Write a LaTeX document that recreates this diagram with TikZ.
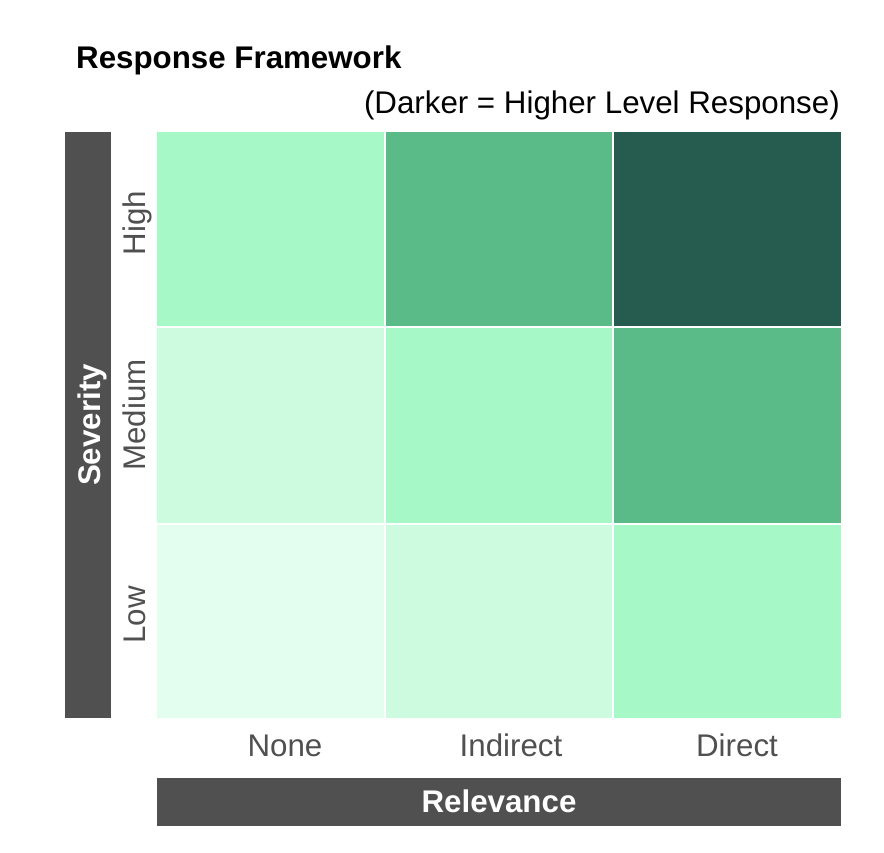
\documentclass[tikz,border=0pt]{standalone}
\usepackage{fontspec}
\setmainfont{Liberation Sans}
\definecolor{barg}{HTML}{505050}
\definecolor{lab}{HTML}{505050}
\definecolor{cA}{HTML}{E3FDEF}
\definecolor{cB}{HTML}{CCFBE0}
\definecolor{cC}{HTML}{A6F9C6}
\definecolor{cD}{HTML}{5BBB88}
\definecolor{cE}{HTML}{265C4F}
\begin{document}
\begin{tikzpicture}[x=1pt,y=-1pt,
  big/.style={font=\fontsize{31.3}{36}\selectfont, inner sep=0pt},
  cell/.style={draw=white, line width=2pt},
  bar/.style={fill=barg, draw=none}]
\useasboundingbox (0,0) rectangle (884,852);
\fill[white] (0,0) rectangle (884,852);
% title
\node[big, anchor=base west, font=\fontsize{31.3}{36}\selectfont\bfseries] (title) at (76,68) {Response Framework};
\node[big, anchor=base east] (sub) at (840,113) {(Darker = Higher Level Response)};
% cells
\fill[cC] (157,132) rectangle (385,327);
\fill[cD] (385,132) rectangle (613,327);
\fill[cE] (613,132) rectangle (841,327);
\fill[cB] (157,327) rectangle (385,524);
\fill[cC] (385,327) rectangle (613,524);
\fill[cD] (613,327) rectangle (841,524);
\fill[cA] (157,524) rectangle (385,718);
\fill[cB] (385,524) rectangle (613,718);
\fill[cC] (613,524) rectangle (841,718);
\draw[cell] (385,132) -- (385,718);
\draw[cell] (613,132) -- (613,718);
\draw[cell] (157,327) -- (841,327);
\draw[cell] (157,524) -- (841,524);
% bars
\fill[bar] (65,132) rectangle (111,718);
\fill[bar] (157,778) rectangle (841,826);
\node[big, text=white, font=\fontsize{31.3}{36}\selectfont\bfseries, rotate=90, anchor=base] (sev) at (100,425) {Severity};
\node[big, text=white, font=\fontsize{31.3}{36}\selectfont\bfseries, anchor=base] (rel) at (499,812) {Relevance};
% row labels
\node[big, text=lab, rotate=90, anchor=base] (high) at (145,223) {High};
\node[big, text=lab, rotate=90, anchor=base] (med) at (145,415) {Medium};
\node[big, text=lab, rotate=90, anchor=base] (low) at (145,615) {Low};
% column labels
\node[big, text=lab, anchor=base] (none) at (285,756) {None};
\node[big, text=lab, anchor=base] (ind) at (511,756) {Indirect};
\node[big, text=lab, anchor=base] (dir) at (737,756) {Direct};
\end{tikzpicture}
\end{document}
